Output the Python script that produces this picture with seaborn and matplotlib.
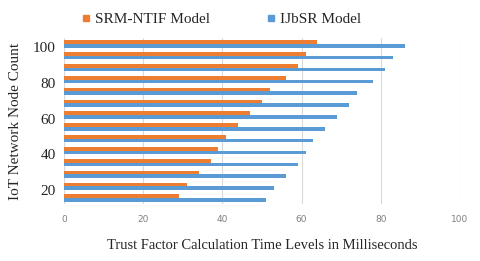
import matplotlib
matplotlib.use("Agg")
import matplotlib.pyplot as plt
import pandas as pd
import seaborn as sns

# node count rows, top to bottom
nodes = ["100", "93", "87", "80", "73", "67", "60", "53", "47", "40", "33", "27", "20", "13"]
srm_ntif = [64, 61, 59, 56, 52, 50, 47, 44, 41, 39, 37, 34, 31, 29]
ijbsr = [86, 83, 81, 78, 74, 72, 69, 66, 63, 61, 59, 56, 53, 51]
tick_labels = ["100", "80", "60", "40", "20"]
x_ticks = [0, 20, 40, 60, 80, 100]

models = ["SRM-NTIF Model", "IJbSR Model"]
colors = ["#ED7D31", "#5B9BD5"]

df = pd.DataFrame({
    "nodes": nodes * 2,
    "time": srm_ntif + ijbsr,
    "model": [models[0]] * len(nodes) + [models[1]] * len(nodes),
})

sns.set_style("white")
serif = ["Liberation Serif", "DejaVu Serif"]

fig = plt.figure(figsize=(4.8, 2.61), dpi=100)
ax = fig.add_axes([64 / 480, 1 - 204 / 261, 396 / 480, 166 / 261])

sns.barplot(data=df, y="nodes", x="time", hue="model", order=nodes,
            hue_order=models, palette=colors, orient="h", width=0.62,
            saturation=1, ax=ax, legend=False, edgecolor="none")

ax.set_xlim(0, 100)
ax.set_xticks(x_ticks)
ax.set_xticklabels([str(t) for t in x_ticks], color="#7f7f7f",
                   fontsize=6.5, family="DejaVu Sans")
ax.tick_params(axis="x", length=0, pad=8)
ax.grid(axis="x", color="#d9d9d9", linewidth=0.8)
ax.set_axisbelow(True)

pos = [nodes.index(t) + 0.3 for t in tick_labels]
ax.set_yticks(pos)
ax.set_yticklabels(tick_labels, fontsize=11, family=serif)
ax.tick_params(axis="y", length=0, pad=6)

for s in ax.spines.values():
    s.set_visible(False)

ax.set_xlabel("Trust Factor Calculation Time Levels in Milliseconds",
              fontsize=10.5, family=serif, labelpad=11)
ax.set_ylabel("IoT Network Node Count", fontsize=11, family=serif, labelpad=8)

handles = [plt.Line2D([], [], marker="s", linestyle="none", color=c,
                      markersize=4) for c in colors]
fig.legend(handles, models, loc="center", bbox_to_anchor=(0.458, 0.925),
           ncol=2, frameon=False, prop={"family": serif, "size": 11},
           handletextpad=0.1, columnspacing=3.5, handlelength=1.0)

fig.savefig("out.png", dpi=100)
